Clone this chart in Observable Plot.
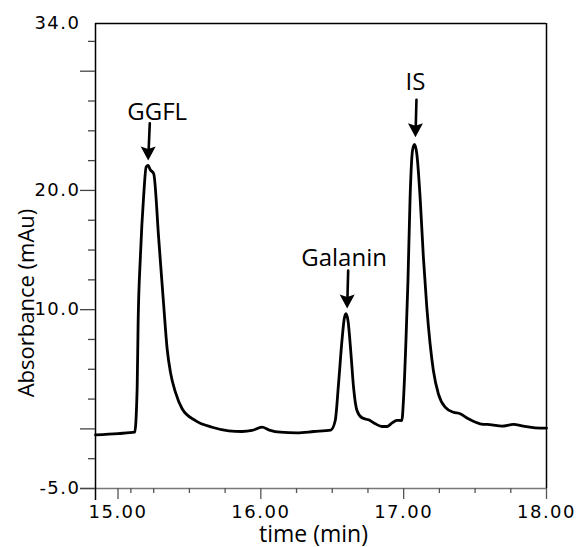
<!DOCTYPE html>
<html><head><meta charset="utf-8">
<script src="https://cdn.jsdelivr.net/npm/d3@7"></script>
<script src="https://cdn.jsdelivr.net/npm/@observablehq/plot@0.6"></script>
<style>
body{margin:0;background:#fff}
svg{display:block}
g[aria-label$="tick label"] text{letter-spacing:1.5px}
</style>
</head><body><div id="chart"></div>
<script>
// Chromatogram trace (time in min, absorbance in mAu)
const time = [14.843, 15.00, 15.117, 15.134, 15.141, 15.157, 15.180, 15.197, 15.211, 15.225, 15.250, 15.285, 15.320, 15.344, 15.367, 15.402, 15.449, 15.542, 15.659, 15.775, 15.868, 15.938, 16.008, 16.06, 16.136, 16.253, 16.371, 16.49, 16.521, 16.544, 16.568, 16.584, 16.596, 16.610, 16.631, 16.649, 16.673, 16.708, 16.754, 16.801, 16.848, 16.883, 16.917, 16.952, 16.987, 16.999, 17.016, 17.030, 17.045, 17.062, 17.076, 17.092, 17.115, 17.138, 17.162, 17.185, 17.208, 17.243, 17.290, 17.348, 17.395, 17.453, 17.535, 17.617, 17.687, 17.768, 17.838, 17.920, 18.000];
const absorbance = [-0.50, -0.39, -0.28, 3.36, 8.95, 14.5, 19.6, 21.96, 22.1, 21.75, 21.4, 15.95, 10.35, 6.72, 4.76, 3.08, 1.69, 0.70, 0.14, -0.16, -0.22, -0.13, 0.14, -0.10, -0.28, -0.33, -0.22, -0.10, 0.70, 3.78, 7.40, 9.24, 9.66, 9.10, 6.30, 3.50, 1.54, 0.93, 0.76, 0.43, 0.20, 0.20, 0.48, 0.72, 0.70, 2.50, 7.40, 12.4, 19.4, 23.36, 23.85, 23.08, 19.44, 14.4, 10.2, 7.14, 4.90, 2.94, 1.82, 1.40, 1.27, 0.85, 0.43, 0.34, 0.23, 0.37, 0.23, 0.09, 0.06];

// Axes
const xDomain = [14.8425, 18];
const yDomain = [-5, 34];
const xLabelTicks = [15, 16, 17, 18];
const xMinorTicks = [15.09, 15.25, 15.5, 15.75, 16.25, 16.5, 16.75, 17.25, 17.5, 17.75];
const yLabelTicks = [-5, 10, 20, 34];
const yMajorTicks = [-5, 0, 10, 20, 30];
const yMinorTicks = [-2.5, 2.5, 5, 7.5, 12.5, 15, 17.5, 22.5, 25, 27.5, 32.5];
const xTitle = "time (min)";
const yTitle = "Absorbance (mAu)";

// Peak annotations
const peakNames = ["GGFL", "Galanin", "IS"];
const labelX = [15.274, 16.583, 17.083];
const labelY = [25.93, 13.62, 28.4];
const arrowX1 = [15.2226, 16.6115, 17.0896];
const arrowY1 = [25.64, 13.29, 27.60];
const arrowX2 = [15.2114, 16.6045, 17.0826];
const arrowY2 = [22.51, 10.10, 24.47];

const trace = time.map((t, i) => ({t, a: absorbance[i]}));
const peaks = peakNames.map((name, i) => ({
  name, lx: labelX[i], ly: labelY[i],
  x1: arrowX1[i], y1: arrowY1[i], x2: arrowX2[i], y2: arrowY2[i]
}));

// filled, downward pointing arrow head with its tip at the origin
const arrowHead = {
  draw(ctx) {
    ctx.moveTo(0, 0);
    ctx.lineTo(-7.5, -14);
    ctx.lineTo(0, -11.5);
    ctx.lineTo(7.5, -14);
    ctx.closePath();
  }
};

const chart = Plot.plot({
  width: 577,
  height: 547,
  marginLeft: 95,
  marginRight: 31,
  marginTop: 23,
  marginBottom: 59,
  x: {domain: xDomain},
  y: {domain: yDomain},
  style: {fontFamily: "DejaVu Sans", fontSize: "18px", background: "#fff", color: "#000"},
  marks: [
    // frame
    Plot.ruleY([yDomain[0]], {stroke: "#777", strokeWidth: 1.5, insetLeft: -15}),
    Plot.ruleY([yDomain[1]], {stroke: "#000", strokeWidth: 1.5}),
    Plot.ruleX([xDomain[1]], {stroke: "#000", strokeWidth: 1.5}),
    Plot.ruleX([xDomain[0]], {stroke: "#000", strokeWidth: 1.5, insetBottom: -12}),
    // x ticks
    Plot.axisX({ticks: xLabelTicks, tickSize: 11, tickFormat: () => "", stroke: "#555", strokeWidth: 1.3, label: null}),
    Plot.axisX({ticks: xMinorTicks, tickSize: 5, tickFormat: () => "", stroke: "#555", strokeWidth: 1.3, label: null}),
    Plot.axisX({ticks: xLabelTicks, tickSize: 0, tickPadding: 17, tickFormat: d => d.toFixed(2), fontSize: 18, fill: "#000", label: null}),
    // y ticks
    Plot.axisY({ticks: yMajorTicks, tickSize: 15, tickFormat: () => "", stroke: "#444", strokeWidth: 1.3, label: null}),
    Plot.axisY({ticks: yMinorTicks, tickSize: 7, tickFormat: () => "", stroke: "#444", strokeWidth: 1.3, label: null}),
    Plot.axisY({ticks: yLabelTicks, tickSize: 0, tickPadding: 15, tickFormat: d => d.toFixed(1), fontSize: 18, fill: "#000", label: null}),
    // trace
    Plot.line(trace, {x: "t", y: "a", curve: "monotone-x", stroke: "#000", strokeWidth: 2.8, strokeLinejoin: "round"}),
    // arrows
    Plot.arrow(peaks, {x1: "x1", y1: "y1", x2: "x2", y2: "y2", headLength: 0, insetEnd: 6, stroke: "#000", strokeWidth: 2.6}),
    Plot.dot(peaks, {x: "x2", y: "y2", symbol: arrowHead, r: 5, fill: "#000", stroke: "none"}),
    Plot.text(peaks, {x: "lx", y: "ly", text: "name", lineAnchor: "bottom", fontFamily: "Open Sans", fontSize: 24, fill: "#000"}),
    // titles
    Plot.text([xTitle], {frameAnchor: "bottom", textAnchor: "middle", dx: -7.5, dy: 53, lineAnchor: "bottom", fontFamily: "Open Sans", fontSize: 23, fill: "#000"}),
    Plot.text([yTitle], {frameAnchor: "left", textAnchor: "middle", rotate: -90, dx: -62, dy: 47, lineAnchor: "bottom", fontFamily: "Open Sans", fontSize: 22, fill: "#000"})
  ]
});
document.getElementById("chart").appendChild(chart);
</script>
</body></html>
